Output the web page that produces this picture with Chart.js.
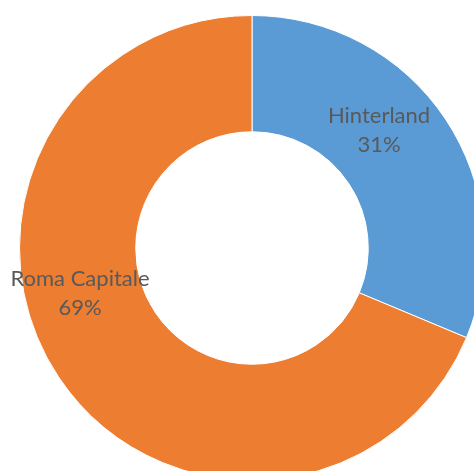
<!DOCTYPE html>
<html>
<head>
<meta charset="utf-8">
<script src="https://cdn.jsdelivr.net/npm/chart.js@4.4.0/dist/chart.umd.min.js"></script>
<style>
  html, body { margin: 0; padding: 0; background: #fff; overflow: hidden; width: 474px; height: 471px; }
  #wrap { position: absolute; left: 0; top: 0; width: 504px; height: 496px; }
</style>
</head>
<body>
<div id="wrap"><canvas id="donut"></canvas></div>
<script>
// data (slice edge suggests ~31.3 / 68.7)
const categories = ['Hinterland', 'Roma Capitale'];
const shares = [31.3, 68.7];
const sliceColors = ['#5B9BD5', '#ED7D31'];
// label centre offsets from the ring centre (Excel places them by hand-ish rules)
const labelOffsets = [[127, -117], [-172, 46]];

const labelPlugin = {
    id: 'sliceLabels',
    afterDatasetsDraw(chart) {
        const ctx = chart.ctx;
        const meta = chart.getDatasetMeta(0);
        const total = shares.reduce((a, b) => a + b, 0);
        ctx.save();
        ctx.font = '22px Lato, "Open Sans", sans-serif';
        ctx.fillStyle = '#595959';
        ctx.textAlign = 'center';
        ctx.textBaseline = 'middle';
        meta.data.forEach(function(arc, i) {
            const x = arc.x + labelOffsets[i][0];
            const y = arc.y + labelOffsets[i][1];
            const pct = Math.round(shares[i] / total * 100) + '%';
            ctx.fillText(categories[i], x, y - 15);
            ctx.fillText(pct, x, y + 14);
        });
        ctx.restore();
    }
};

document.addEventListener('DOMContentLoaded', function() {
    const ctx = document.getElementById('donut').getContext('2d');
    new Chart(ctx, {
        type: 'doughnut',
        data: {
            labels: categories,
            datasets: [{
                data: shares,
                backgroundColor: sliceColors,
                borderColor: '#ffffff',
                borderWidth: 1
            }]
        },
        options: {
            responsive: true,
            maintainAspectRatio: false,
            animation: false,
            cutout: '50%',
            layout: { padding: { left: 19, right: 19, top: 15, bottom: 15 } },
            plugins: {
                legend: { display: false },
                tooltip: { enabled: false }
            }
        },
        plugins: [labelPlugin]
    });
});
</script>
</body>
</html>
